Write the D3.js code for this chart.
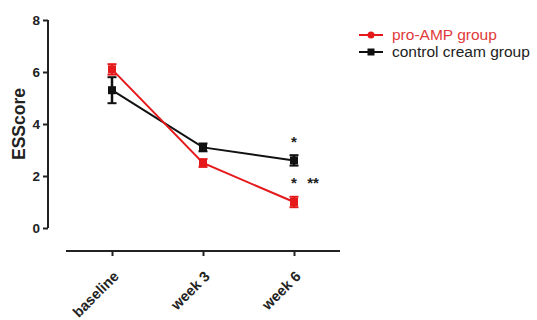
<!DOCTYPE html>
<html><head><meta charset="utf-8">
<script src="https://cdn.jsdelivr.net/npm/d3@7"></script>
<style>body{margin:0;background:#fff}svg{display:block;font-family:"Liberation Sans",Arial,sans-serif}</style>
</head><body><svg id="c" width="537" height="320"></svg>
<script>
const categories = ["baseline", "week 3", "week 6"];
const seriesNames = ["pro-AMP group", "control cream group"];
const proAMP = [6.1, 2.5, 1.0];
const proAMPErr = [0.2, 0.15, 0.2];
const control = [5.3, 3.1, 2.6];
const controlErr = [0.5, 0.15, 0.2];
const yTicks = [0, 2, 4, 6, 8];
const annotations = [
  {cat: "week 6", value: 3.4, text: "*", dx: 0},
  {cat: "week 6", value: 1.8, text: "*", dx: 0},
  {cat: "week 6", value: 1.8, text: "**", dx: 19}
];

const svg = d3.select("#c");
const y = d3.scaleLinear().domain([0, 8]).range([228, 20]);
const x = d3.scalePoint().domain(categories).range([112, 294]);

// y axis
const gy = svg.append("g").attr("transform", "translate(48,0)")
  .call(d3.axisLeft(y).tickValues(yTicks).tickSize(5).tickPadding(3).tickFormat(d3.format("d")));
gy.select(".domain").attr("stroke", "#222").attr("stroke-width", 2).attr("d", "M0,20V228");
gy.selectAll(".tick line").attr("stroke", "#222").attr("stroke-width", 2);
gy.selectAll("text").attr("font-size", 13.5).attr("font-weight", "bold").attr("fill", "#222");

// x axis
const gx = svg.append("g").attr("transform", "translate(0,251)")
  .call(d3.axisBottom(x).tickSize(5).tickPadding(6));
gx.select(".domain").attr("stroke", "#222").attr("stroke-width", 2).attr("d", "M66,0H340");
gx.selectAll(".tick line").attr("stroke", "#222").attr("stroke-width", 2);
gx.selectAll("text").attr("font-size", 14.5).attr("font-weight", "bold").attr("fill", "#222")
  .attr("text-anchor", "end").attr("y", 0).attr("dy", "0.7em")
  .attr("transform", "translate(0,19) rotate(-45)");

// y label
svg.append("text").attr("transform", "translate(25,124) rotate(-90)")
  .attr("text-anchor", "middle").attr("font-size", 17.5).attr("font-weight", "bold").attr("fill", "#222")
  .text("ESScore");

const series = [
  {name: seriesNames[1], vals: control, err: controlErr, color: "#111"},
  {name: seriesNames[0], vals: proAMP, err: proAMPErr, color: "#e5191c"}
];

series.forEach(s => {
  const pts = categories.map((c, i) => ({c, v: s.vals[i], e: s.err[i]}));
  svg.append("path").datum(pts)
    .attr("fill", "none").attr("stroke", s.color).attr("stroke-width", 2)
    .attr("d", d3.line().x(d => x(d.c)).y(d => y(d.v)));
  const g = svg.append("g");
  pts.forEach(d => {
    const cx = x(d.c);
    g.append("line").attr("x1", cx).attr("x2", cx).attr("y1", y(d.v - d.e)).attr("y2", y(d.v + d.e))
      .attr("stroke", s.color).attr("stroke-width", 2.5);
    [d.v - d.e, d.v + d.e].forEach(v => g.append("line").attr("x1", cx - 4.5).attr("x2", cx + 4.5)
      .attr("y1", y(v)).attr("y2", y(v)).attr("stroke", s.color).attr("stroke-width", 2));
    g.append("rect").attr("x", cx - 4).attr("y", y(d.v) - 4).attr("width", 8).attr("height", 8).attr("fill", s.color);
  });
});

annotations.forEach(a => {
  svg.append("text").attr("x", x(a.cat) + a.dx).attr("y", y(a.value) + 7)
    .attr("text-anchor", "middle").attr("font-size", 15).attr("font-weight", "bold").attr("fill", "#222").text(a.text);
});

// legend
const leg = [
  {name: seriesNames[0], color: "#e5191c", text: "#e03a3a", shape: "circle", yy: 35},
  {name: seriesNames[1], color: "#111", text: "#222", shape: "square", yy: 52}
];
leg.forEach(l => {
  svg.append("line").attr("x1", 359).attr("x2", 383).attr("y1", l.yy).attr("y2", l.yy).attr("stroke", l.color).attr("stroke-width", 2);
  if (l.shape === "circle") svg.append("circle").attr("cx", 371).attr("cy", l.yy).attr("r", 3.5).attr("fill", l.color);
  else svg.append("rect").attr("x", 367.5).attr("y", l.yy - 3.5).attr("width", 7).attr("height", 7).attr("fill", l.color);
  svg.append("text").attr("x", 392).attr("y", l.yy).attr("dy", "0.35em").attr("font-size", 15.5).attr("fill", l.text).text(l.name);
});
</script></body></html>
